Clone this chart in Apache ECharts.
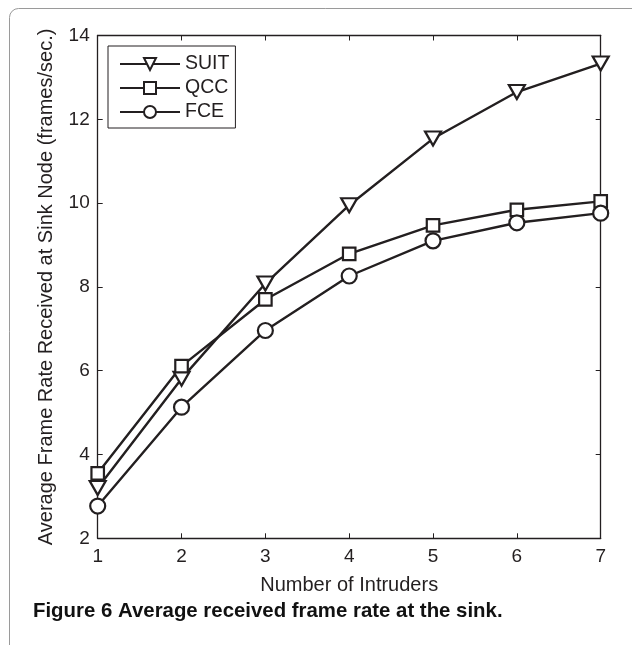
<!DOCTYPE html>
<html>
<head>
<meta charset="utf-8">
<script src="https://cdn.jsdelivr.net/npm/echarts@6/dist/echarts.min.js"></script>
<style>
  html, body { margin: 0; padding: 0; background: #fff; }
  #chart { width: 632px; height: 645px; }
</style>
</head>
<body>
<div id="chart"></div>
<script>
var intruders = [1, 2, 3, 4, 5, 6, 7];
var suit = [3.2, 5.81, 8.08, 9.95, 11.54, 12.65, 13.33];
var qcc  = [3.55, 6.11, 7.70, 8.79, 9.47, 9.84, 10.04];
var fce  = [2.77, 5.13, 6.96, 8.26, 9.10, 9.53, 9.76];

function pairs(vals) {
  return intruders.map(function (x, i) { return [x, vals[i]]; });
}

var ink = '#231f20';
var fontFam = '"Liberation Sans", Arial, sans-serif';

var myChart = echarts.init(document.getElementById('chart'));

function lineSeries(name, vals, symbol, size, rotate) {
  return {
    name: name,
    type: 'line',
    data: pairs(vals),
    symbol: symbol,
    symbolSize: size,
    symbolRotate: rotate || 0,
    showAllSymbol: true,
    lineStyle: { color: ink, width: 2.4 },
    itemStyle: { color: '#fff', borderColor: ink, borderWidth: 2.2 },
    emphasis: { disabled: true },
    z: 3
  };
}

var option = {
  backgroundColor: '#fff',
  animation: false,
  textStyle: { fontFamily: fontFam },
  graphic: [
    {
      type: 'rect',
      shape: { x: 9.5, y: 8.5, width: 700, height: 700, r: 9 },
      style: { fill: 'none', stroke: '#9a9a9a', lineWidth: 1 },
      silent: true
    },
    {
      type: 'text',
      left: 33,
      top: 601,
      style: {
        text: 'Figure 6 Average received frame rate at the sink.',
        fontWeight: 'bold',
        fontSize: 20.4,
        fontFamily: fontFam,
        fill: '#111'
      }
    }
  ],
  legend: {
    left: 108,
    top: 46,
    orient: 'vertical',
    padding: [8, 6, 6, 11],
    itemWidth: 60,
    itemHeight: 15,
    itemGap: 4,
    borderColor: ink,
    borderWidth: 1,
    backgroundColor: '#fff',
    symbolRotate: 'inherit',
    textStyle: { fontSize: 19.5, lineHeight: 15, color: ink, fontFamily: fontFam },
    data: ['SUIT', 'QCC', 'FCE']
  },
  grid: { left: 97.7, right: 31.3, top: 35.5, bottom: 106.7 },
  xAxis: [
    {
      type: 'value', min: 1, max: 7, interval: 1,
      name: 'Number of Intruders', nameLocation: 'middle', nameGap: 37,
      nameTextStyle: { fontSize: 20, color: ink, fontFamily: fontFam },
      axisLine: { lineStyle: { color: ink, width: 1.3 } },
      axisTick: { inside: true, length: 5, lineStyle: { color: ink } },
      axisLabel: { fontSize: 19, color: ink, margin: 9, fontFamily: fontFam },
      splitLine: { show: false }
    },
    {
      type: 'value', min: 1, max: 7, interval: 1, position: 'top',
      axisLine: { show: true, lineStyle: { color: ink, width: 1.3 } },
      axisTick: { show: true, inside: true, length: 5, lineStyle: { color: ink } },
      axisLabel: { show: false },
      splitLine: { show: false }
    }
  ],
  yAxis: [
    {
      type: 'value', min: 2, max: 14, interval: 2,
      name: 'Average Frame Rate Received at Sink Node (frames/sec.)',
      nameLocation: 'middle', nameGap: 41,
      nameTextStyle: { fontSize: 20, color: ink, fontFamily: fontFam },
      axisLine: { show: true, lineStyle: { color: ink, width: 1.3 } },
      axisTick: { show: true, inside: true, length: 5, lineStyle: { color: ink } },
      axisLabel: { fontSize: 19, color: ink, margin: 8, fontFamily: fontFam },
      splitLine: { show: false }
    },
    {
      type: 'value', min: 2, max: 14, interval: 2, position: 'right',
      axisLine: { show: true, lineStyle: { color: ink, width: 1.3 } },
      axisTick: { show: true, inside: true, length: 5, lineStyle: { color: ink } },
      axisLabel: { show: false },
      splitLine: { show: false }
    }
  ],
  series: [
    lineSeries('SUIT', suit, 'triangle', [16, 14], 180),
    lineSeries('QCC', qcc, 'rect', 12.5),
    lineSeries('FCE', fce, 'circle', 15)
  ]
};
myChart.setOption(option);
</script>
</body>
</html>
